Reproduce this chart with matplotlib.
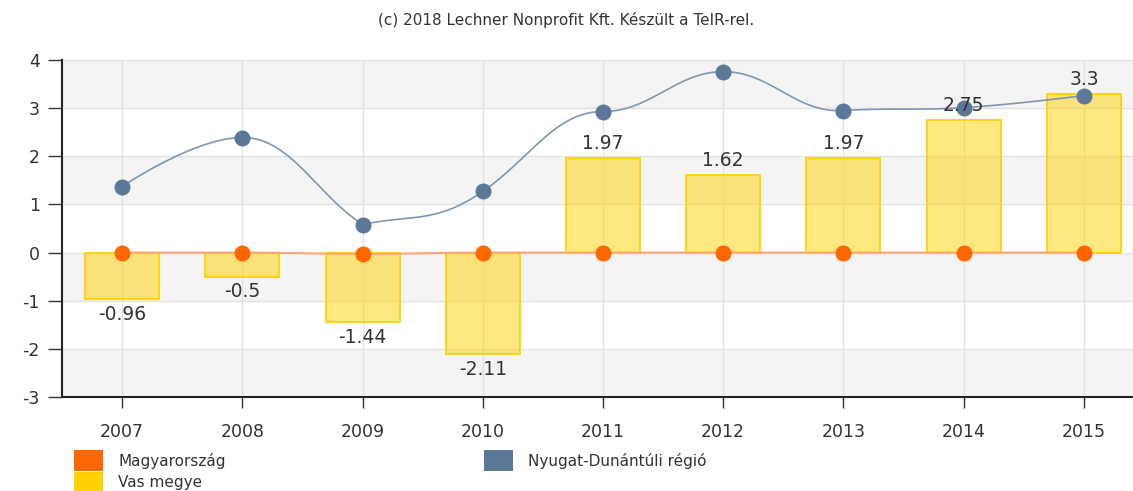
import numpy as np
import matplotlib
matplotlib.use("Agg")
import matplotlib.pyplot as plt

# Data
years = ["2007", "2008", "2009", "2010", "2011", "2012", "2013", "2014", "2015"]
vas_megye = [-0.96, -0.5, -1.44, -2.11, 1.97, 1.62, 1.97, 2.75, 3.3]
regio = [1.37, 2.39, 0.58, 1.27, 2.93, 3.76, 2.95, 3.01, 3.26]
magyarorszag = [0.0, 0.0, -0.03, 0.0, 0.0, 0.0, 0.0, 0.0, 0.0]

yticks = [-3, -2, -1, 0, 1, 2, 3, 4]
title = "(c) 2018 Lechner Nonprofit Kft. Készült a TeIR-rel."
legend_labels = ["Magyarország", "Nyugat-Dunántúli régió", "Vas megye"]

ORANGE = "#FF6600"
BLUE = "#5B7899"
YELLOW = "#FFD200"
TEXT = "#333333"

plt.rcParams["axes.unicode_minus"] = False
plt.rcParams["font.family"] = ["DejaVu Sans"]


def spline_path(xs, ys, smoothing=1.5, steps=30):
    # Bezier spline through the points, control points built like Highcharts
    n = len(xs)
    left = [(xs[i], ys[i]) for i in range(n)]
    right = [(xs[i], ys[i]) for i in range(n)]
    denom = smoothing + 1
    for i in range(1, n - 1):
        px, py = xs[i], ys[i]
        lx, ly = xs[i - 1], ys[i - 1]
        nx, ny = xs[i + 1], ys[i + 1]
        lcx = (smoothing * px + lx) / denom
        lcy = (smoothing * py + ly) / denom
        rcx = (smoothing * px + nx) / denom
        rcy = (smoothing * py + ny) / denom
        if rcx != lcx:
            joint = (lcy - rcy) * (rcx - px) / (rcx - lcx) + py - rcy
            lcy += joint
            rcy += joint
        if lcy > ly and lcy > py:
            lcy = max(ly, py)
            rcy = 2 * py - lcy
        elif lcy < ly and lcy < py:
            lcy = min(ly, py)
            rcy = 2 * py - lcy
        if rcy > ny and rcy > py:
            rcy = max(ny, py)
            lcy = 2 * py - rcy
        elif rcy < ny and rcy < py:
            rcy = min(ny, py)
            lcy = 2 * py - rcy
        left[i] = (lcx, lcy)
        right[i] = (rcx, rcy)
    t = np.linspace(0, 1, steps)[:, None]
    pts = []
    for i in range(n - 1):
        p0 = np.array([xs[i], ys[i]])
        p1 = np.array(right[i])
        p2 = np.array(left[i + 1])
        p3 = np.array([xs[i + 1], ys[i + 1]])
        seg = ((1 - t) ** 3) * p0 + 3 * ((1 - t) ** 2) * t * p1 \
            + 3 * (1 - t) * t ** 2 * p2 + t ** 3 * p3
        pts.append(seg)
    pts = np.vstack(pts)
    return pts[:, 0], pts[:, 1]


fig = plt.figure(figsize=(11.33, 4.91), dpi=100)
ax = fig.add_axes([62 / 1133, 94 / 491, 1082 / 1133, 337 / 491])

x = np.arange(len(years))

# Alternating background bands
for lo in range(-3, 4):
    if (lo - 3) % 2 == 0:
        ax.axhspan(lo, lo + 1, color="#F4F4F4", zorder=0, lw=0)
for v in yticks:
    ax.axhline(v, color="#E3E3E3", lw=1, zorder=0.5)
for xi in x:
    ax.axvline(xi, color="#E3E3E3", lw=1, zorder=0.5)

# Vas megye bars
ax.bar(x, vas_megye, width=0.615, color=YELLOW, alpha=0.5, zorder=2, lw=0)
ax.bar(x, vas_megye, width=0.615, facecolor="none", edgecolor=YELLOW,
       lw=1.3, zorder=2.1)

# Magyarország line
sx, sy = spline_path(list(x), magyarorszag)
ax.plot(sx, sy, color="#FFA577", lw=1.5, zorder=3)
ax.plot(x, magyarorszag, "o", color=ORANGE, ms=10.5, zorder=3.5)

# Nyugat-Dunántúli régió line
sx, sy = spline_path(list(x), regio)
ax.plot(sx, sy, color="#7E97B3", lw=1.2, zorder=4)
ax.plot(x, regio, "o", color=BLUE, ms=10.5, zorder=4.5)

# Bar value labels
for xi, v in zip(x, vas_megye):
    lbl = f"{v:g}"
    if v >= 0:
        ax.text(xi, v + 0.1, lbl, ha="center", va="bottom", fontsize=13.5,
                color=TEXT, zorder=6)
    else:
        ax.text(xi, v - 0.12, lbl, ha="center", va="top", fontsize=13.5,
                color=TEXT, zorder=6)

ax.set_xlim(-0.5, len(years) - 0.5)
ax.set_ylim(-3, 4)
ax.set_yticks(yticks)
ax.set_xticks(x)
ax.set_xticklabels(years)
ax.tick_params(axis="y", direction="out", length=10, width=1, color=TEXT,
               labelsize=12.5, labelcolor=TEXT, pad=6)
ax.tick_params(axis="x", direction="out", length=8, width=1, color=TEXT,
               labelsize=12.5, labelcolor=TEXT, pad=11)
for side in ("top", "right"):
    ax.spines[side].set_visible(False)
for side in ("left", "bottom"):
    ax.spines[side].set_color("#222222")
    ax.spines[side].set_linewidth(1.5)
ax.set_facecolor("white")

fig.text(0.5, 1 - 20 / 491, title, ha="center", va="center", fontsize=11,
         color=TEXT)

# Legend: coloured squares with labels below the plot
legend_colors = [ORANGE, BLUE, YELLOW]
legend_pos = [(74, 450), (484, 450), (74, 472)]
for lbl, col, (px, py) in zip(legend_labels, legend_colors, legend_pos):
    fig.patches.append(plt.Rectangle((px / 1133, 1 - (py + 21) / 491),
                                     29 / 1133, 21 / 491,
                                     transform=fig.transFigure,
                                     facecolor=col, edgecolor="none"))
    fig.text((px + 44) / 1133, 1 - (py + 11) / 491, lbl, va="center",
             fontsize=11, color=TEXT)

fig.savefig("out.png", dpi=100)
